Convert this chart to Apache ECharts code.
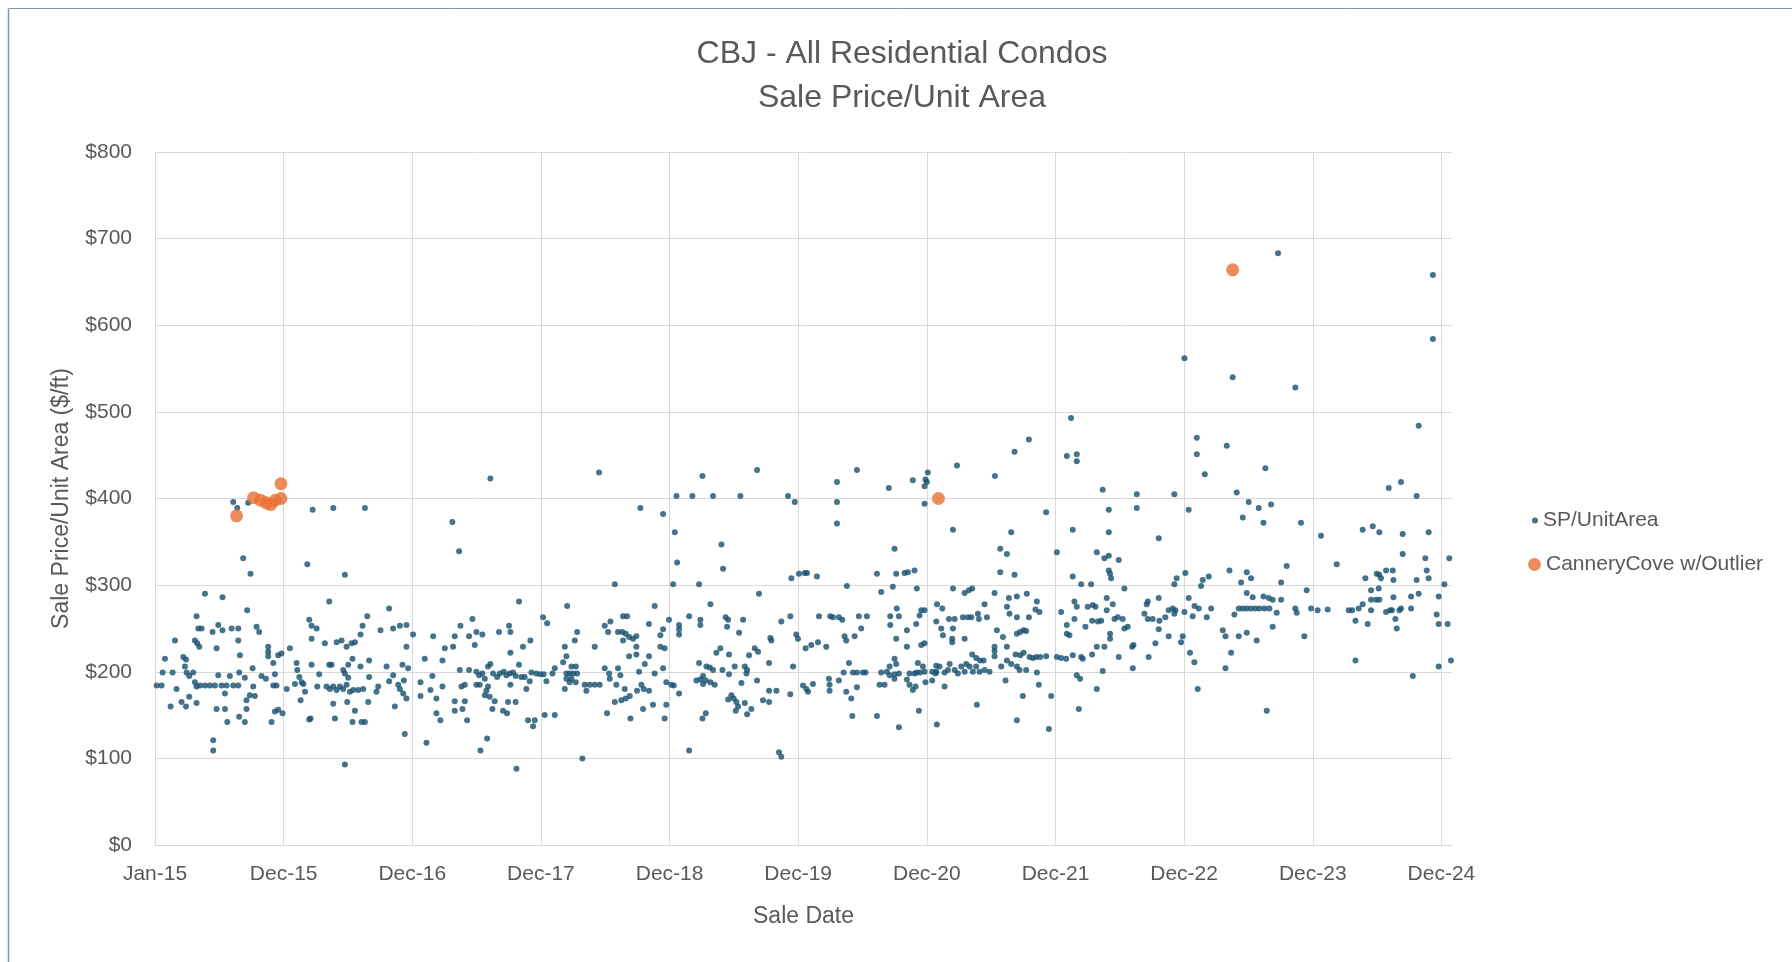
<!DOCTYPE html>
<html>
<head>
<meta charset="utf-8">
<title>CBJ - All Residential Condos</title>
<script src="https://cdn.jsdelivr.net/npm/echarts@6/dist/echarts.min.js"></script>
<style>
  html, body { margin: 0; padding: 0; background: #ffffff; }
  #chart { width: 1792px; height: 962px; }
</style>
</head>
<body>
<div id="chart"></div>
<script>
// ---- Data: [sale date as decimal year, sale price per unit area in $/ft] ----
const sp2015 = [[2015.013,184],[2015.051,184],[2015.059,199],[2015.077,215],[2015.121,160],[2015.136,199],[2015.155,236],[2015.167,180],[2015.206,165],[2015.219,217],[2015.232,206],[2015.240,214],[2015.240,160],[2015.245,199],[2015.265,195],[2015.265,171],[2015.296,199],[2015.309,236],[2015.309,188],[2015.322,264],[2015.322,183],[2015.322,164],[2015.327,233],[2015.335,250],[2015.343,229],[2015.348,184],[2015.361,250],[2015.387,290],[2015.387,184],[2015.425,184],[2015.446,246],[2015.451,121],[2015.451,109],[2015.464,184],[2015.477,227],[2015.477,157],[2015.490,254],[2015.490,196],[2015.516,184],[2015.523,286],[2015.523,248],[2015.542,175],[2015.542,157],[2015.554,184],[2015.560,142],[2015.580,195],[2015.593,250],[2015.606,396],[2015.606,184],[2015.637,389],[2015.645,250],[2015.645,236],[2015.645,184],[2015.652,199],[2015.652,148],[2015.658,219],[2015.683,331],[2015.696,193],[2015.696,142],[2015.709,167],[2015.709,157],[2015.714,271],[2015.722,395],[2015.735,173],[2015.740,313],[2015.756,204],[2015.761,183],[2015.774,172],[2015.787,252],[2015.807,246],[2015.825,195],[2015.859,192],[2015.877,229],[2015.877,223],[2015.877,218],[2015.903,142],[2015.916,210],[2015.916,184],[2015.929,197],[2015.929,154],[2015.941,184],[2015.954,219],[2015.954,156],[2015.980,221],[2015.988,152]];
const sp2016 = [[2016.020,180],[2016.045,227],[2016.084,186],[2016.097,210],[2016.102,202],[2016.118,194],[2016.128,167],[2016.136,188],[2016.149,186],[2016.162,177],[2016.180,324],[2016.195,260],[2016.195,145],[2016.205,146],[2016.213,253],[2016.213,238],[2016.213,208],[2016.221,387],[2016.252,250],[2016.257,183],[2016.272,197],[2016.316,233],[2016.329,183],[2016.350,281],[2016.350,208],[2016.355,180],[2016.368,208],[2016.381,389],[2016.381,183],[2016.381,163],[2016.394,146],[2016.407,234],[2016.407,179],[2016.432,183],[2016.445,236],[2016.458,202],[2016.458,180],[2016.471,312],[2016.471,198],[2016.471,93],[2016.484,229],[2016.484,185],[2016.489,165],[2016.497,208],[2016.497,193],[2016.510,177],[2016.523,233],[2016.530,215],[2016.530,142],[2016.536,179],[2016.549,234],[2016.549,155],[2016.574,179],[2016.592,243],[2016.592,206],[2016.600,142],[2016.608,253],[2016.613,180],[2016.626,389],[2016.626,142],[2016.644,264],[2016.652,165],[2016.659,213],[2016.659,194],[2016.716,177],[2016.729,183],[2016.747,248],[2016.794,206],[2016.814,273],[2016.814,189],[2016.845,250],[2016.845,196],[2016.858,160],[2016.884,185],[2016.897,253],[2016.897,180],[2016.917,208],[2016.923,175],[2016.928,190],[2016.935,128],[2016.948,254],[2016.948,229],[2016.948,169],[2016.961,204],[2016.999,243]];
const sp2017 = [[2017.057,188],[2017.057,172],[2017.090,215],[2017.103,118],[2017.134,179],[2017.149,195],[2017.155,241],[2017.180,169],[2017.180,152],[2017.211,144],[2017.227,213],[2017.227,183],[2017.245,227],[2017.304,373],[2017.309,229],[2017.322,241],[2017.322,166],[2017.322,155],[2017.356,339],[2017.361,202],[2017.366,253],[2017.374,183],[2017.382,157],[2017.400,185],[2017.400,166],[2017.418,144],[2017.433,241],[2017.433,202],[2017.459,261],[2017.477,231],[2017.490,246],[2017.490,200],[2017.490,185],[2017.511,196],[2017.516,185],[2017.521,109],[2017.536,243],[2017.536,198],[2017.555,192],[2017.555,173],[2017.567,178],[2017.573,123],[2017.580,206],[2017.580,183],[2017.593,171],[2017.598,423],[2017.598,209],[2017.614,157],[2017.619,198],[2017.632,166],[2017.650,194],[2017.665,246],[2017.671,198],[2017.696,155],[2017.702,200],[2017.722,196],[2017.727,152],[2017.735,165],[2017.743,253],[2017.748,198],[2017.753,246],[2017.753,222],[2017.753,185],[2017.774,199],[2017.794,195],[2017.794,165],[2017.800,88],[2017.820,281],[2017.820,208],[2017.838,194],[2017.851,229],[2017.864,194],[2017.877,180],[2017.890,144],[2017.903,189],[2017.908,236],[2017.916,199],[2017.929,137],[2017.942,144],[2017.954,198],[2017.985,197],[2018.006,263],[2018.011,197],[2018.019,150],[2018.032,189]];
const sp2018 = [[2018.038,256],[2018.079,198],[2018.097,204],[2018.097,150],[2018.162,211],[2018.175,229],[2018.175,180],[2018.187,218],[2018.187,198],[2018.187,192],[2018.193,276],[2018.213,198],[2018.213,188],[2018.226,206],[2018.226,192],[2018.239,198],[2018.252,236],[2018.260,206],[2018.260,188],[2018.270,246],[2018.270,198],[2018.311,100],[2018.329,185],[2018.342,178],[2018.368,185],[2018.407,229],[2018.407,185],[2018.440,430],[2018.445,185],[2018.484,253],[2018.484,204],[2018.502,152],[2018.510,246],[2018.518,198],[2018.523,192],[2018.528,258],[2018.562,301],[2018.562,165],[2018.574,185],[2018.587,246],[2018.587,204],[2018.605,196],[2018.613,167],[2018.621,246],[2018.626,264],[2018.626,236],[2018.639,180],[2018.647,244],[2018.647,169],[2018.657,264],[2018.673,240],[2018.673,218],[2018.678,172],[2018.683,146],[2018.703,238],[2018.729,241],[2018.729,229],[2018.729,220],[2018.734,178],[2018.750,200],[2018.760,389],[2018.768,185],[2018.781,157],[2018.786,180],[2018.794,209],[2018.827,255],[2018.827,218],[2018.827,178],[2018.858,162],[2018.871,276],[2018.871,198],[2018.915,242],[2018.915,229],[2018.936,382],[2018.936,249],[2018.936,204],[2018.948,227],[2018.948,146],[2018.961,188],[2018.961,162],[2018.982,260],[2019.000,185]];
const sp2019 = [[2019.014,301],[2019.019,184],[2019.027,361],[2019.040,403],[2019.045,326],[2019.060,254],[2019.060,249],[2019.060,243],[2019.060,175],[2019.138,264],[2019.138,109],[2019.163,403],[2019.194,190],[2019.215,301],[2019.215,210],[2019.225,260],[2019.225,254],[2019.225,191],[2019.241,426],[2019.241,146],[2019.246,195],[2019.246,186],[2019.267,190],[2019.267,152],[2019.272,206],[2019.298,205],[2019.303,278],[2019.303,188],[2019.323,403],[2019.323,202],[2019.336,185],[2019.349,222],[2019.380,227],[2019.388,347],[2019.396,202],[2019.401,319],[2019.421,263],[2019.432,252],[2019.440,260],[2019.440,168],[2019.447,220],[2019.447,197],[2019.465,173],[2019.483,169],[2019.491,206],[2019.499,155],[2019.504,165],[2019.517,160],[2019.525,245],[2019.535,403],[2019.543,187],[2019.556,260],[2019.569,206],[2019.569,164],[2019.582,198],[2019.587,202],[2019.587,151],[2019.602,219],[2019.620,157],[2019.646,227],[2019.664,433],[2019.664,190],[2019.672,223],[2019.679,290],[2019.710,167],[2019.757,210],[2019.757,178],[2019.757,165],[2019.767,239],[2019.775,236],[2019.814,178],[2019.834,107],[2019.852,258],[2019.852,102],[2019.904,403],[2019.922,264],[2019.922,174],[2019.930,308],[2019.943,206],[2019.956,396],[2019.968,243],[2019.981,238],[2019.989,313],[2020.020,184],[2020.033,314],[2020.046,180],[2020.059,177]];
const sp2020 = [[2020.040,227],[2020.051,314],[2020.084,231],[2020.097,186],[2020.128,310],[2020.136,234],[2020.144,264],[2020.200,229],[2020.221,192],[2020.226,185],[2020.226,178],[2020.231,264],[2020.252,263],[2020.283,419],[2020.283,396],[2020.283,371],[2020.298,263],[2020.298,190],[2020.324,260],[2020.335,199],[2020.342,241],[2020.355,236],[2020.355,177],[2020.360,299],[2020.376,210],[2020.394,169],[2020.402,149],[2020.407,199],[2020.420,241],[2020.438,433],[2020.438,199],[2020.438,182],[2020.453,264],[2020.471,250],[2020.484,199],[2020.505,199],[2020.515,264],[2020.593,313],[2020.593,149],[2020.613,185],[2020.626,292],[2020.626,199],[2020.652,185],[2020.670,200],[2020.685,412],[2020.691,206],[2020.691,196],[2020.696,264],[2020.696,254],[2020.716,298],[2020.729,342],[2020.729,215],[2020.729,197],[2020.729,192],[2020.742,313],[2020.742,238],[2020.742,209],[2020.747,273],[2020.763,264],[2020.763,198],[2020.763,136],[2020.807,314],[2020.825,248],[2020.825,229],[2020.825,191],[2020.833,315],[2020.845,198],[2020.845,185],[2020.871,421],[2020.871,179],[2020.884,317],[2020.884,198],[2020.892,183],[2020.897,255],[2020.902,296],[2020.902,199],[2020.910,210],[2020.918,155],[2020.923,265],[2020.928,199],[2020.936,271],[2020.936,231],[2020.949,206],[2020.962,414],[2020.962,394],[2020.962,271],[2020.962,233],[2020.962,200],[2020.969,422],[2020.969,188],[2020.980,419],[2020.987,430],[2021.021,200],[2021.021,190],[2021.047,198],[2021.052,207],[2021.057,139]];
const sp2021 = [[2021.053,258],[2021.053,200],[2021.058,278],[2021.078,206],[2021.091,250],[2021.099,273],[2021.104,242],[2021.117,199],[2021.117,183],[2021.143,202],[2021.151,261],[2021.156,209],[2021.176,238],[2021.176,234],[2021.182,364],[2021.182,296],[2021.182,250],[2021.195,261],[2021.195,202],[2021.213,438],[2021.220,198],[2021.246,206],[2021.259,263],[2021.272,291],[2021.272,238],[2021.272,200],[2021.285,209],[2021.298,263],[2021.305,294],[2021.311,206],[2021.324,263],[2021.331,296],[2021.331,220],[2021.336,200],[2021.362,216],[2021.362,206],[2021.367,162],[2021.375,267],[2021.383,261],[2021.388,200],[2021.393,213],[2021.419,213],[2021.427,278],[2021.427,202],[2021.445,263],[2021.465,200],[2021.504,291],[2021.504,229],[2021.504,224],[2021.504,218],[2021.507,426],[2021.522,248],[2021.548,342],[2021.548,315],[2021.556,206],[2021.569,240],[2021.589,190],[2021.600,336],[2021.600,275],[2021.600,229],[2021.600,213],[2021.615,285],[2021.620,267],[2021.633,361],[2021.633,209],[2021.659,454],[2021.659,312],[2021.667,220],[2021.677,287],[2021.677,263],[2021.677,244],[2021.677,206],[2021.677,144],[2021.698,202],[2021.703,246],[2021.703,219],[2021.723,172],[2021.729,248],[2021.729,222],[2021.749,247],[2021.749,202],[2021.754,290],[2021.770,468],[2021.770,263],[2021.775,217],[2021.801,216],[2021.821,272],[2021.827,217],[2021.832,281],[2021.832,199],[2021.847,185],[2021.852,269],[2021.858,217],[2021.904,384],[2021.904,218],[2021.925,134],[2021.943,172],[2021.987,338],[2021.987,217],[2022.020,269],[2022.020,216],[2022.064,254],[2022.064,244]];
const sp2022 = [[2022.059,215],[2022.064,449],[2022.084,242],[2022.097,493],[2022.110,364],[2022.110,310],[2022.110,219],[2022.123,281],[2022.123,261],[2022.141,451],[2022.141,443],[2022.141,275],[2022.141,196],[2022.157,157],[2022.167,192],[2022.175,301],[2022.175,217],[2022.188,215],[2022.208,252],[2022.226,275],[2022.252,301],[2022.260,259],[2022.260,220],[2022.265,277],[2022.286,275],[2022.296,338],[2022.296,229],[2022.296,180],[2022.304,258],[2022.330,259],[2022.342,410],[2022.342,201],[2022.355,331],[2022.355,229],[2022.373,285],[2022.373,271],[2022.389,387],[2022.389,361],[2022.389,334],[2022.389,317],[2022.399,313],[2022.399,244],[2022.399,238],[2022.407,308],[2022.420,278],[2022.433,261],[2022.459,263],[2022.466,329],[2022.466,217],[2022.497,261],[2022.510,296],[2022.510,250],[2022.536,252],[2022.570,229],[2022.575,204],[2022.580,231],[2022.606,405],[2022.606,389],[2022.665,267],[2022.683,278],[2022.691,281],[2022.691,261],[2022.698,217],[2022.729,261],[2022.750,233],[2022.776,354],[2022.776,285],[2022.776,249],[2022.781,259],[2022.827,263],[2022.853,271],[2022.853,241],[2022.884,273],[2022.897,405],[2022.897,301],[2022.897,267],[2022.905,271],[2022.915,308],[2022.949,234],[2022.962,241],[2022.975,562],[2022.975,269],[2022.982,314],[2023.008,387],[2023.008,285],[2023.018,222],[2023.039,264],[2023.052,211],[2023.078,180]];
const sp2023 = [[2023.053,276],[2023.071,470],[2023.071,451],[2023.086,273],[2023.104,299],[2023.117,306],[2023.133,428],[2023.148,263],[2023.164,310],[2023.182,273],[2023.272,248],[2023.293,241],[2023.293,204],[2023.303,461],[2023.324,317],[2023.337,222],[2023.349,540],[2023.362,266],[2023.380,407],[2023.396,273],[2023.396,241],[2023.414,303],[2023.427,378],[2023.427,273],[2023.458,315],[2023.458,291],[2023.458,273],[2023.458,245],[2023.473,396],[2023.491,308],[2023.491,273],[2023.504,286],[2023.525,273],[2023.535,236],[2023.551,389],[2023.556,273],[2023.587,372],[2023.587,287],[2023.595,273],[2023.602,435],[2023.613,155],[2023.628,285],[2023.633,273],[2023.646,393],[2023.659,283],[2023.659,252],[2023.690,268],[2023.700,683],[2023.724,303],[2023.724,283],[2023.767,322],[2023.834,528],[2023.834,273],[2023.845,268],[2023.878,372],[2023.904,241],[2023.922,294],[2023.956,273],[2024.007,271],[2024.033,357],[2024.085,272]];
const sp2024 = [[2024.155,324],[2024.248,271],[2024.274,271],[2024.300,259],[2024.300,213],[2024.325,273],[2024.356,364],[2024.356,278],[2024.377,308],[2024.395,255],[2024.421,294],[2024.421,283],[2024.421,271],[2024.434,368],[2024.460,283],[2024.465,313],[2024.480,296],[2024.485,361],[2024.485,312],[2024.485,283],[2024.498,308],[2024.537,317],[2024.537,269],[2024.558,412],[2024.568,271],[2024.583,271],[2024.589,317],[2024.594,306],[2024.594,286],[2024.609,261],[2024.620,250],[2024.640,271],[2024.653,419],[2024.653,273],[2024.666,359],[2024.666,336],[2024.731,287],[2024.731,273],[2024.744,195],[2024.774,403],[2024.774,306],[2024.790,484],[2024.790,290],[2024.841,331],[2024.852,317],[2024.867,361],[2024.867,308],[2024.900,658],[2024.900,584],[2024.929,266],[2024.945,287],[2024.945,255],[2024.945,206],[2024.989,301],[2025.014,255],[2025.027,331],[2025.040,213]];

// Cannery Cove sales, including the 2023 outlier
const canneryCove = [[2015.632,380],[2015.764,401],[2015.818,398],[2015.862,395],[2015.897,393],[2015.932,398],[2015.976,417],[2015.976,400],[2021.069,400],[2023.349,664]];

const seriesNames = ['SP/UnitArea', 'CanneryCove w/Outlier'];
const titleLines = ['CBJ - All Residential Condos', 'Sale Price/Unit Area'];
const xAxisTitle = 'Sale Date';
const yAxisTitle = 'Sale Price/Unit Area ($/ft)';
const monthNames = ['Jan','Feb','Mar','Apr','May','Jun','Jul','Aug','Sep','Oct','Nov','Dec'];

// ---- Date axis: days counted from 1 Jan 2015, one major step every 364 days ----
const EPOCH = Date.UTC(2015, 0, 1);
const DAY_MS = 86400000;
const STEP_DAYS = 364;
const toDays = (yr) => (yr - 2015) * 365.25;
const toPoints = (rows) => rows.map(([yr, v]) => [toDays(yr), v]);

function dateLabel(days) {
  const d = new Date(EPOCH + Math.round(days) * DAY_MS);
  return monthNames[d.getUTCMonth()] + '-' + String(d.getUTCFullYear()).slice(2);
}

const allSales = [].concat(sp2015, sp2016, sp2017, sp2018, sp2019, sp2020, sp2021, sp2022, sp2023, sp2024);

const FONT = '"Liberation Sans", Arial, Helvetica, sans-serif';
const TEXT = '#595959';
const GRID = '#D9D9D9';
const FRAME = '#7F99B3';

const chart = echarts.init(document.getElementById('chart'), null, { renderer: 'canvas' });
chart.setOption({
  animation: false,
  backgroundColor: '#ffffff',
  textStyle: { fontFamily: FONT },
  // chart-area frame along the left and top edges
  graphic: [
    { type: 'line', silent: true, shape: { x1: 8.5, y1: 8.5, x2: 8.5, y2: 962 }, style: { stroke: FRAME, lineWidth: 1.5 } },
    { type: 'line', silent: true, shape: { x1: 8.5, y1: 8.5, x2: 1792, y2: 8.5 }, style: { stroke: FRAME, lineWidth: 1 } }
  ],
  title: {
    text: titleLines.join('\n'),
    left: 902,
    top: 32,
    textAlign: 'center',
    padding: 0,
    textStyle: { fontFamily: FONT, fontSize: 32, fontWeight: 'normal', color: TEXT, lineHeight: 44 }
  },
  legend: [
    {
      data: [seriesNames[0]],
      orient: 'vertical',
      left: 1532, top: 510, padding: 0,
      itemWidth: 6, itemHeight: 6, icon: 'circle',
      textStyle: { fontFamily: FONT, fontSize: 21, color: TEXT }
    },
    {
      data: [seriesNames[1]],
      orient: 'vertical',
      left: 1528, top: 554, padding: 0,
      itemWidth: 13, itemHeight: 13, icon: 'circle',
      textStyle: { fontFamily: FONT, fontSize: 21, color: TEXT }
    }
  ],
  grid: { left: 155, right: 340, top: 152, bottom: 117, containLabel: false },
  xAxis: {
    type: 'value',
    min: 0,
    max: 3670,
    interval: STEP_DAYS,
    name: xAxisTitle,
    nameLocation: 'middle',
    nameGap: 60,
    nameTextStyle: { fontFamily: FONT, fontSize: 23, color: TEXT },
    axisLine: { show: true, lineStyle: { color: GRID, width: 1 } },
    axisTick: { show: false },
    axisLabel: {
      formatter: dateLabel, fontFamily: FONT, fontSize: 21, color: TEXT, margin: 19,
      showMaxLabel: false
    },
    splitLine: { show: true, showMaxLine: false, lineStyle: { color: GRID, width: 1 } }
  },
  yAxis: {
    type: 'value',
    min: 0,
    max: 800,
    interval: 100,
    name: yAxisTitle,
    nameLocation: 'middle',
    nameGap: 82,
    nameTextStyle: { fontFamily: FONT, fontSize: 23, color: TEXT },
    axisLine: { show: false },
    axisTick: { show: false },
    axisLabel: { formatter: (v) => '$' + v, fontFamily: FONT, fontSize: 21, color: TEXT, margin: 23 },
    splitLine: { show: true, lineStyle: { color: GRID, width: 1 } }
  },
  series: [
    {
      name: seriesNames[0],
      type: 'scatter',
      symbol: 'circle',
      symbolSize: 6,
      itemStyle: { color: '#16506E' },
      data: toPoints(allSales),
      z: 2
    },
    {
      name: seriesNames[1],
      type: 'scatter',
      symbol: 'circle',
      symbolSize: 13,
      itemStyle: { color: '#E97132' },
      data: toPoints(canneryCove),
      z: 3
    }
  ]
});
</script>
</body>
</html>
